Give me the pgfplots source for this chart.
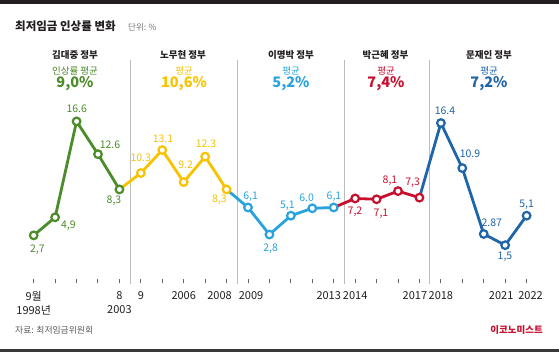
\documentclass[border=0pt]{standalone}
\usepackage{pgfplots}
\pgfplotsset{compat=1.18}
\usepackage{fontspec}
\setmainfont{Noto Sans CJK KR}
\definecolor{cG}{HTML}{4C8C2B}
\definecolor{cY}{HTML}{F7C300}
\definecolor{cL}{HTML}{29A3DD}
\definecolor{cR}{HTML}{C8102E}
\definecolor{cB}{HTML}{1E65AA}
\definecolor{cT}{HTML}{231F20}
\definecolor{cS}{HTML}{BDBDBD}
\newcommand\sh[2]{\hbox to 0pt{\hss\kern#1\relax #2\kern-#1\relax\hss}}
\newcommand\fs[1]{\fontsize{#1}{#1}\selectfont}
\begin{document}
\begin{tikzpicture}
\useasboundingbox (0,0) rectangle (559pt,-352pt);
\fill[white] (0,0) rectangle (559pt,-352pt);
\fill[cT] (0,0) rectangle (559pt,-4.5pt);
\fill[black!78] (0,-349.3pt) rectangle (559pt,-352pt);
\begin{axis}[at={(0,0)}, anchor=north west, scale only axis,
  width=559pt, height=283.3pt,
  xmin=-1.5726, xmax=24.512, ymin=-3.146, ymax=31.402,
  axis x line*=bottom, axis y line=none,
  x axis line style={draw=none}, clip=false,
  xtick={0,...,23}, ytick=\empty,
  xtick align=inside, major tick length=4pt,
  xtick style={draw=black!60, line width=1pt},
  xticklabels={{9월\\1998년},,,,{8\\2003},9,,2006,,{\sh{-7pt}{2008}},{\sh{3pt}{2009}},,,,{\sh{-5pt}{2013}},2014,,,{\sh{-4.5pt}{2017}},2018,,,{\sh{-4pt}{2021}},{\sh{4pt}{2022}}},
  xticklabel style={font=\fontsize{11}{13.3}\selectfont, align=center, text=cT, yshift=-5pt},
]
% separators
\pgfplotsinvokeforeach{4.526,9.501,14.48,18.46}{\draw[cS, line width=0.8pt] (axis cs:#1,24.1) -- (axis cs:#1,-3.25);}
% tick marks (explicit)
\foreach \k in {0,1,...,23}{\edef\tmp{\noexpand\draw[black!60, line width=1pt] (axis cs:\k,-3.146) -- (axis cs:\k,-2.66);}\tmp}
% lines
\addplot[cG, line width=2.8pt, no marks] coordinates {(0,2.7)(1,4.9)(2,16.6)(3,12.6)(4,8.3)};
\addplot[cY, line width=2.8pt, no marks] coordinates {(4,8.3)(5,10.3)(6,13.1)(7,9.2)(8,12.3)(9,8.3)};
\addplot[cL, line width=2.8pt, no marks] coordinates {(9,8.3)(10,6.1)(11,2.8)(12,5.1)(13,6.0)(14,6.1)};
\addplot[cR, line width=2.8pt, no marks] coordinates {(14,6.1)(15,7.2)(16,7.1)(17,8.1)(18,7.3)};
\addplot[cB, line width=2.8pt, no marks] coordinates {(18,7.3)(19,16.4)(20,10.9)(21,2.87)(22,1.5)(23,5.1)};
% markers
\addplot[only marks, mark=*, mark size=3.8pt, mark options={draw=cG, fill=white, line width=2.2pt}] coordinates {(0,2.7)(1,4.9)(2,16.6)(3,12.6)(4,8.3)};
\addplot[only marks, mark=*, mark size=3.8pt, mark options={draw=cY, fill=white, line width=2.2pt}] coordinates {(5,10.3)(6,13.1)(7,9.2)(8,12.3)(9,8.3)};
\addplot[only marks, mark=*, mark size=3.8pt, mark options={draw=cL, fill=white, line width=2.2pt}] coordinates {(10,6.1)(11,2.8)(12,5.1)(13,6.0)(14,6.1)};
\addplot[only marks, mark=*, mark size=3.8pt, mark options={draw=cR, fill=white, line width=2.2pt}] coordinates {(15,7.2)(16,7.1)(17,8.1)(18,7.3)};
\addplot[only marks, mark=*, mark size=3.8pt, mark options={draw=cB, fill=white, line width=2.2pt}] coordinates {(19,16.4)(20,10.9)(21,2.87)(22,1.5)(23,5.1)};
\end{axis}
% title
\node[anchor=west, text=cT, font=\fs{11.5}\bfseries, inner sep=0] at (15pt,-26.7pt) {최저임금 인상률 변화};
\node[anchor=west, text=black!55, font=\fs{8.5}, inner sep=0] at (128pt,-27.5pt) {단위: \%};
% headers
\begin{scope}[every node/.style={inner sep=0, anchor=center}]
\node[text=cT, font=\fs{9.5}\bfseries] at (75pt,-55pt) {김대중 정부};
\node[text=cG, font=\fs{9.5}] at (75pt,-70.7pt) {인상률 평균};
\node[text=cG, font=\fs{14.5}\bfseries] at (75pt,-84pt) {9,0\%};
\node[text=cT, font=\fs{9.5}\bfseries] at (183pt,-55pt) {노무현 정부};
\node[text=cY, font=\fs{9.5}] at (184pt,-70.7pt) {평균};
\node[text=cY, font=\fs{14.5}\bfseries] at (184pt,-84pt) {10,6\%};
\node[text=cT, font=\fs{9.5}\bfseries] at (291pt,-55pt) {이명박 정부};
\node[text=cL, font=\fs{9.5}] at (291pt,-70.7pt) {평균};
\node[text=cL, font=\fs{14.5}\bfseries] at (291pt,-84pt) {5,2\%};
\node[text=cT, font=\fs{9.5}\bfseries] at (385.5pt,-55pt) {박근혜 정부};
\node[text=cR, font=\fs{9.5}] at (386pt,-70.7pt) {평균};
\node[text=cR, font=\fs{14.5}\bfseries] at (386pt,-84pt) {7,4\%};
\node[text=cT, font=\fs{9.5}\bfseries] at (489pt,-55pt) {문재인 정부};
\node[text=cB, font=\fs{9.5}] at (489pt,-70.7pt) {평균};
\node[text=cB, font=\fs{14.5}\bfseries] at (489pt,-84pt) {7,2\%};
% data labels
\begin{scope}[font=\fs{10.5}]
\node[text=cG] at (37.3pt,-250pt) {2,7};
\node[text=cG] at (68.3pt,-226pt) {4,9};
\node[text=cG] at (76.7pt,-108.3pt) {16.6};
\node[text=cG] at (110pt,-145pt) {12.6};
\node[text=cG] at (114pt,-201pt) {8,3};
\node[text=cY] at (140.7pt,-157.3pt) {10.3};
\node[text=cY] at (163pt,-138.3pt) {13.1};
\node[text=cY] at (185.7pt,-165pt) {9.2};
\node[text=cY] at (206pt,-143.3pt) {12.3};
\node[text=cY] at (219.3pt,-200pt) {8,3};
\node[text=cL] at (250.7pt,-196.7pt) {6,1};
\node[text=cL] at (270.7pt,-248.3pt) {2,8};
\node[text=cL] at (287.3pt,-206pt) {5,1};
\node[text=cL] at (306.7pt,-197.7pt) {6.0};
\node[text=cL] at (334pt,-196.7pt) {6,1};
\node[text=cR] at (355pt,-211.7pt) {7,2};
\node[text=cR] at (381pt,-213.3pt) {7,1};
\node[text=cR] at (390pt,-180.7pt) {8,1};
\node[text=cR] at (412.7pt,-182.7pt) {7,3};
\node[text=cB] at (445pt,-110.7pt) {16.4};
\node[text=cB] at (470pt,-153.3pt) {10.9};
\node[text=cB] at (491.7pt,-222.3pt) {2.87};
\node[text=cB] at (505pt,-256.7pt) {1,5};
\node[text=cB] at (526.7pt,-205pt) {5,1};
\end{scope}
% footer
\node[anchor=west, text=black!65, font=\fs{8.8}] at (15pt,-330pt) {자료: 최저임금위원회};
\node[anchor=east, text=cR, font=\fs{9.5}\bfseries] at (543pt,-330pt) {이코노미스트};
\end{scope}
\end{tikzpicture}
\end{document}
